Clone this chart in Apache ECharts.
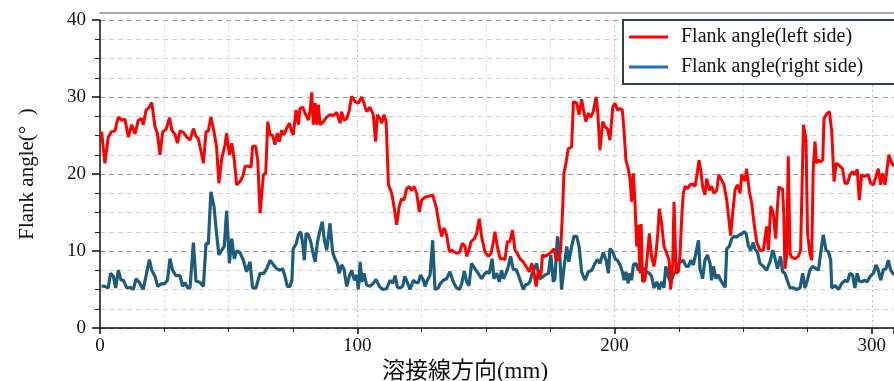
<!DOCTYPE html>
<html>
<head>
<meta charset="utf-8">
<script src="https://cdn.jsdelivr.net/npm/echarts@6/dist/echarts.min.js"></script>
<style>
html,body{margin:0;padding:0;background:#fff;}
#c{width:894px;height:381px;}
</style>
</head>
<body>
<div id="c"></div>
<script>
const seriesNames = ['Flank angle(left side)', 'Flank angle(right side)'];
const xAxisName = '溶接線方向(mm)';
const yAxisName = 'Flank angle(°  )';

const leftX = [0.6,1.9,3.2,4.5,5.8,7.1,8.4,9.7,10.4,11.0,12.3,13.6,14.9,16.2,16.8,17.9,19.2,20.1,21.4,22.3,23.3,24.4,25.7,27.0,27.9,29.2,30.1,31.1,32.4,33.7,35.0,36.3,37.3,38.2,38.9,40.2,41.2,42.1,43.1,44.3,45.3,46.2,47.3,48.6,49.2,50.3,51.2,52.2,53.1,54.4,55.5,56.4,57.7,58.7,59.3,60.5,61.3,62.2,63.5,64.4,65.2,66.1,67.1,68.0,68.9,69.7,70.6,71.5,72.5,73.6,74.5,75.1,76.2,77.1,77.7,78.8,79.7,81.0,81.6,82.3,82.9,83.6,84.2,84.9,85.5,86.8,88.1,89.4,90.7,92.0,92.6,93.3,93.9,94.8,95.9,96.9,97.8,99.1,100.4,101.7,102.6,103.6,104.9,106.2,107.1,107.8,108.8,109.5,110.4,111.2,112.1,113.4,114.4,115.3,116.3,117.2,118.1,119.2,120.2,121.1,122.0,123.1,124.1,125.0,126.3,127.6,129.3,130.8,131.9,132.8,133.7,134.7,135.8,136.7,137.6,138.6,139.9,140.8,141.9,142.5,143.2,144.2,145.5,146.4,147.4,148.3,149.6,150.9,152.0,152.9,153.5,154.4,155.5,156.5,157.4,158.3,159.3,160.3,161.3,162.2,163.2,164.5,165.8,166.9,167.8,168.7,169.5,170.4,171.3,172.0,172.9,173.9,174.6,175.5,176.5,177.2,178.1,179.0,179.8,180.3,181.1,182.0,183.3,184.0,185.3,186.2,187.2,188.1,188.9,189.8,190.7,191.7,192.8,193.4,194.3,195.4,196.3,197.2,198.2,199.3,200.2,201.1,202.1,203.0,203.7,204.4,205.3,206.0,206.6,207.3,207.9,208.6,209.1,209.9,210.3,210.9,211.8,212.5,213.5,214.4,215.3,216.1,216.8,217.4,218.3,219.2,220.3,221.2,221.8,222.6,223.1,223.9,224.8,225.4,226.1,226.7,227.4,228.3,229.3,230.4,231.3,232.2,232.8,233.5,234.2,235.1,235.8,236.8,237.7,238.6,239.7,240.5,241.6,242.5,243.6,244.2,245.1,245.9,246.8,247.7,248.8,249.4,250.1,250.7,251.3,252.4,253.3,254.2,255.2,256.5,257.8,259.1,259.8,260.7,261.7,262.6,263.3,263.9,264.3,265.3,265.8,266.2,266.9,267.5,268.2,268.8,270.1,271.4,272.3,273.4,274.4,275.0,275.9,276.6,277.2,277.9,278.5,279.3,280.1,280.9,281.4,282.4,283.5,284.4,285.3,286.1,287.0,287.6,288.6,289.5,290.5,291.5,292.5,293.4,294.3,295.1,296.0,297.0,297.7,298.6,299.5,300.6,301.6,302.5,303.4,304.2,305.1,305.7,306.6,307.7,308.6];
const leftY = [25.5,21.4,24.8,25.5,25.6,27.4,27.0,27.1,27.2,24.8,26.4,25.2,27.0,27.2,26.4,28.3,28.7,29.3,26.1,25.3,22.5,25.5,25.8,27.3,25.7,25.1,24.0,25.6,25.4,24.8,24.4,25.9,24.9,24.6,23.5,21.4,25.5,25.6,27.4,25.5,23.5,18.8,22.0,23.8,25.3,22.5,24.0,21.8,18.6,19.0,19.7,21.0,21.0,20.9,23.6,23.6,21.8,14.9,19.9,20.1,26.8,25.1,25.0,23.8,25.3,24.2,25.7,25.1,25.9,26.6,25.5,25.1,28.3,26.4,28.5,28.7,27.9,27.0,28.1,30.6,26.4,29.2,26.4,29.0,26.4,26.8,27.4,27.7,27.6,28.0,28.1,26.6,28.1,27.0,27.2,28.3,30.1,29.4,29.2,30.0,29.2,28.1,28.7,27.7,24.2,27.7,27.2,26.6,27.7,26.8,18.6,17.5,15.5,13.4,15.8,16.8,16.6,18.1,18.4,17.8,18.4,17.5,15.1,16.6,17.0,17.1,17.3,15.5,13.2,11.9,13.0,12.1,9.9,10.1,9.9,9.7,9.9,11.0,10.6,9.3,9.9,11.2,11.6,12.3,14.2,11.9,9.9,9.3,9.7,11.2,12.5,10.6,9.0,9.0,8.9,11.2,11.2,12.7,10.1,9.7,9.0,8.6,7.9,7.3,8.4,7.1,5.4,7.5,6.7,9.5,9.3,9.5,9.7,9.9,10.3,9.0,8.8,9.9,15.3,20.1,21.4,23.3,23.5,29.4,29.2,27.7,29.7,27.9,26.8,27.9,27.4,28.1,30.0,28.3,23.1,26.8,26.1,25.9,24.4,28.7,29.2,28.3,28.5,28.3,25.5,21.8,20.7,19.4,16.4,20.1,16.4,10.6,13.4,7.1,13.5,6.0,6.2,8.6,12.3,9.2,8.0,9.7,12.3,15.5,13.5,10.6,9.7,8.8,5.0,8.4,16.4,7.1,7.3,9.3,14.4,17.5,18.4,18.1,18.6,18.7,18.4,20.3,21.8,20.5,18.4,17.3,19.4,17.9,18.4,17.5,17.9,19.9,19.2,18.6,16.6,16.4,12.0,14.9,17.9,18.6,17.5,19.9,19.7,19.1,20.7,17.7,16.2,13.6,11.2,10.1,10.1,13.2,10.1,15.8,14.9,11.6,15.8,18.4,18.1,18.1,14.4,7.7,9.5,22.3,9.7,9.2,9.0,9.3,10.1,26.4,24.4,12.3,9.7,8.8,20.7,24.2,21.4,21.8,21.6,21.8,27.2,27.8,28.1,25.5,19.0,21.4,21.2,21.0,20.7,18.8,18.8,19.9,20.3,19.9,20.6,16.6,19.9,19.7,19.7,19.9,18.8,18.6,19.7,20.7,18.6,20.1,18.6,20.1,22.5,21.4,21.0];

const rightX = [0.6,1.9,3.2,4.1,5.2,6.1,7.1,8.2,9.1,10.4,11.7,13.0,14.0,15.3,16.8,18.1,19.2,20.1,21.4,22.4,23.6,25.3,26.2,27.2,28.2,29.5,31.1,32.1,33.0,34.1,35.0,36.3,37.3,38.9,40.2,41.2,42.1,43.1,44.3,45.3,46.2,47.3,48.3,49.2,50.3,51.2,52.2,53.1,54.4,55.7,57.0,58.3,59.3,60.6,62.2,63.7,64.8,66.1,67.4,68.7,70.0,71.0,71.9,72.8,73.8,74.6,75.1,76.2,77.1,78.0,78.8,79.4,80.1,81.0,81.9,82.7,83.6,84.5,85.5,86.4,87.2,88.1,89.4,90.4,91.3,92.2,93.0,93.9,94.8,95.9,96.9,97.8,98.9,99.8,100.4,101.1,101.8,102.6,103.6,104.9,106.2,107.3,108.6,109.9,111.4,112.7,113.8,114.7,115.6,116.6,117.6,118.5,119.6,120.5,121.8,122.8,123.7,124.6,125.7,126.3,127.0,128.3,129.3,130.2,131.5,132.1,133.4,134.7,136.0,137.3,138.6,139.7,140.6,141.6,142.5,143.4,144.4,145.7,147.0,148.3,149.2,150.3,151.3,152.4,153.1,154.2,155.2,156.1,156.8,157.8,158.7,159.6,160.6,161.7,162.6,163.5,164.5,165.4,166.3,167.1,168.0,168.8,169.7,170.8,172.0,173.0,174.3,175.2,176.2,176.8,177.8,178.8,179.4,180.3,181.4,182.2,183.3,184.2,185.3,186.2,187.2,188.5,189.8,191.1,192.4,193.3,194.3,195.6,196.7,197.6,198.2,199.3,200.2,201.1,202.1,203.0,203.7,204.4,205.3,206.0,206.6,207.3,208.3,209.2,210.1,211.2,212.5,213.5,214.4,215.3,216.4,217.3,218.3,219.2,219.9,220.9,221.8,222.8,223.9,224.8,225.7,226.7,227.8,228.7,229.6,230.6,231.6,232.6,233.2,234.2,235.1,236.1,237.1,237.7,238.4,239.4,240.3,241.2,242.3,243.0,243.6,244.6,245.5,246.4,247.5,248.5,249.4,250.3,251.1,252.0,252.9,253.9,254.6,255.5,256.5,257.8,259.1,260.4,261.5,262.4,263.3,264.5,265.3,266.2,267.1,268.2,269.5,270.8,272.1,273.1,274.0,274.9,275.9,277.0,277.9,279.2,280.1,281.1,282.2,283.1,284.0,284.4,285.7,287.0,288.3,289.6,290.5,291.5,292.5,293.4,294.3,295.1,296.0,297.3,298.2,299.3,300.6,301.6,302.5,303.4,304.5,305.5,306.4,307.3,308.6];
const rightY = [5.45,5.4,5.2,7.1,6.7,5.2,7.5,6.2,6.2,5.2,5.3,5.0,6.4,5.9,5.0,7.1,8.9,7.5,6.7,5.4,5.7,5.8,6.2,9.0,7.5,6.8,6.8,5.4,5.9,5.2,5.2,11.1,6.1,5.9,5.4,11.0,10.9,17.7,15.8,12.3,9.5,10.1,10.6,15.2,8.4,11.6,9.0,10.0,9.8,8.8,7.3,8.6,5.2,5.2,7.1,7.1,7.7,8.8,8.2,7.7,7.5,7.7,6.7,5.4,5.4,6.2,10.3,10.9,12.1,12.5,11.0,8.8,12.3,12.1,11.2,9.9,8.6,11.1,12.7,13.8,11.4,10.1,13.6,9.9,9.0,8.4,7.1,8.2,7.7,5.4,6.7,7.5,6.2,6.9,5.0,8.6,6.0,7.1,5.6,5.4,5.8,6.3,5.4,5.0,5.1,6.2,5.8,6.8,5.3,5.2,5.4,6.7,5.8,5.0,6.2,5.9,5.9,6.9,6.2,5.4,6.0,6.9,11.4,5.0,5.2,5.7,6.2,6.4,7.3,6.0,5.2,5.0,5.8,7.4,6.0,5.5,8.4,7.7,7.1,6.4,6.9,7.3,7.1,9.0,6.4,7.1,6.0,7.5,6.4,7.1,8.0,9.3,7.6,7.6,6.9,6.0,5.0,5.6,5.7,6.0,7.1,7.7,8.4,6.4,6.6,6.9,7.1,9.5,6.0,6.4,11.9,8.8,5.0,7.7,10.6,8.6,10.6,11.9,11.9,10.6,7.3,6.2,7.3,7.5,8.4,8.9,8.4,9.8,8.8,7.1,10.3,9.9,9.0,8.8,8.2,7.3,6.2,7.3,5.8,7.1,6.2,8.2,8.4,7.5,7.9,7.7,7.3,7.1,6.7,5.2,6.0,5.0,6.0,5.2,8.0,6.7,5.8,6.9,7.6,8.4,8.6,8.8,8.0,8.0,8.8,8.2,9.7,11.4,7.7,6.4,8.8,9.5,8.4,6.2,8.0,6.4,6.9,6.2,5.6,5.3,10.3,10.6,11.6,11.9,11.8,12.1,12.2,12.5,12.3,10.7,10.1,11.1,10.2,9.9,8.4,8.0,7.5,8.6,10.1,9.0,7.7,9.3,7.3,7.1,6.2,5.2,5.2,5.0,5.2,7.1,5.2,6.2,7.5,8.0,7.8,7.5,9.7,12.1,10.1,9.9,8.8,5.2,5.5,5.0,5.8,6.2,6.0,7.1,6.9,5.2,7.1,6.1,6.0,6.2,6.0,6.7,7.1,8.2,7.5,6.2,7.6,7.7,8.8,7.5,6.9];

const xMin = 0, xMax = 308.6, xStep = 100;
const yMin = 0, yMax = 40, yStep = 10;

const leftData = leftX.map((x, i) => [x, leftY[i]]);
const rightData = rightX.map((x, i) => [x, rightY[i]]);

const serif = "'Liberation Serif', 'Times New Roman', 'Noto Sans CJK JP', serif";
const chart = echarts.init(document.getElementById('c'), null, {renderer: 'canvas'});
chart.setOption({
  animation: false,
  backgroundColor: '#ffffff',
  grid: {left: 100, right: 0, top: 20, bottom: 53, containLabel: false, outerBoundsMode: 'none'},
  legend: {
    orient: 'vertical',
    left: 623, top: 20,
    backgroundColor: '#ffffff',
    borderColor: '#2e3f4f',
    borderWidth: 2,
    borderRadius: 0,
    padding: [7, 60, 7, 6],
    itemGap: 10,
    icon: 'rect',
    itemWidth: 39,
    itemHeight: 3,
    textStyle: {fontFamily: serif, fontSize: 20, color: '#111', lineHeight: 20, padding: [0, 0, 0, 8]},
    data: [
      {name: seriesNames[0]},
      {name: seriesNames[1], itemStyle: {color: '#1f6fbf'}, lineStyle: {color: '#1f6fbf'}}
    ]
  },
  xAxis: [{
    type: 'value', min: xMin, max: xMax, interval: xStep,
    name: xAxisName, nameLocation: 'middle', nameGap: 25,
    nameTextStyle: {fontFamily: serif, fontSize: 23, color: '#111', padding: [0, 64, 0, 0]},
    axisLine: {show: true, onZero: false, lineStyle: {color: '#111', width: 1.5}},
    axisTick: {show: true, length: 6, lineStyle: {color: '#111', width: 1.5}},
    minorTick: {show: true, splitNumber: 4, length: 4, lineStyle: {color: '#222', width: 1}},
    axisLabel: {fontFamily: serif, fontSize: 19, color: '#111', margin: 9, showMaxLabel: false,
      formatter: v => (v % xStep === 0 ? String(v) : '')},
    splitLine: {show: true, lineStyle: {color: '#bdbdbd', type: [2, 3], width: 1}},
    minorSplitLine: {show: true, lineStyle: {color: '#d6d6d6', type: [2, 3], width: 1}}
  }, {
    type: 'value', min: xMin, max: xMax, position: 'top', offset: 7,
    axisLine: {show: true, onZero: false, lineStyle: {color: '#8a8a8a', width: 1.5}},
    axisTick: {show: false}, axisLabel: {show: false}, splitLine: {show: false}
  }],
  yAxis: {
    type: 'value', min: yMin, max: yMax, interval: yStep,
    name: yAxisName, nameLocation: 'middle', nameGap: 62,
    nameTextStyle: {fontFamily: serif, fontSize: 21, color: '#111'},
    axisLine: {show: true, onZero: false, lineStyle: {color: '#111', width: 1.5}},
    axisTick: {show: true, length: 8, lineStyle: {color: '#111', width: 1.5}},
    minorTick: {show: true, splitNumber: 4, length: 5, lineStyle: {color: '#222', width: 1}},
    axisLabel: {fontFamily: serif, fontSize: 19, color: '#111', margin: 14},
    splitLine: {show: true, lineStyle: {color: '#9a9a9a', type: [5, 4], width: 1}},
    minorSplitLine: {show: true, lineStyle: {color: '#d0d0d0', type: [5, 4], width: 1}}
  },
  series: [
    {name: seriesNames[1], type: 'line', data: rightData, symbol: 'none', showSymbol: false,
      lineStyle: {color: '#1c5d7e', width: 3.2}, itemStyle: {color: '#1c5d7e'}, z: 2},
    {name: seriesNames[0], type: 'line', data: leftData, symbol: 'none', showSymbol: false,
      lineStyle: {color: '#ff0000', width: 3}, itemStyle: {color: '#ff0000'}, z: 3}
  ]
});
</script>
</body>
</html>
